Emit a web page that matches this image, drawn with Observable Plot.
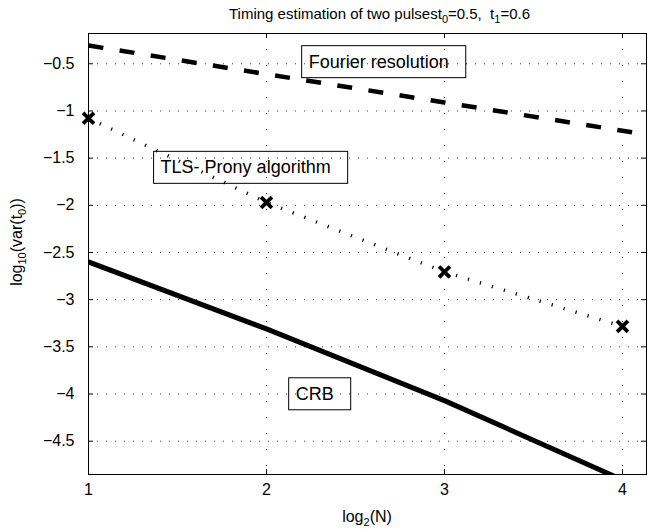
<!DOCTYPE html>
<html>
<head>
<meta charset="utf-8">
<script src="https://cdn.jsdelivr.net/npm/d3@7"></script>
<script src="https://cdn.jsdelivr.net/npm/@observablehq/plot@0.6"></script>
<style>
  html, body { margin: 0; padding: 0; background: #fff; }
  svg { font-family: "Liberation Sans", Arial, sans-serif; }
</style>
</head>
<body>
<div id="chart"></div>
<script>
// ---- data ----
const xTicks = [1, 2, 3, 4];
const yTicks = [-0.5, -1, -1.5, -2, -2.5, -3, -3.5, -4, -4.5];

const fourierLog2N = [1, 2, 3, 4, 5];
const fourierVar   = [-0.306, -0.61, -0.91, -1.21, -1.51];

const tlsLog2N = [1, 2, 3, 4];
const tlsVar   = [-1.077, -1.97, -2.706, -3.283];

const crbLog2N = [1, 2, 3, 4];
const crbVar   = [-2.6, -3.31, -4.07, -4.91];

const labelText = ["Fourier resolution", "TLS- Prony algorithm", "CRB"];
const labelX    = [2.237, 1.405, 2.164];
const labelY    = [-0.48, -1.6, -4.0];

// ---- tables ----
const fourier = fourierLog2N.map((x, i) => ({x, y: fourierVar[i]}));
const tls = tlsLog2N.map((x, i) => ({x, y: tlsVar[i]}));
const crb = crbLog2N.map((x, i) => ({x, y: crbVar[i]}));
const labels = labelText.map((t, i) => ({t, x: labelX[i], y: labelY[i]}));

const W = 649, H = 529, mL = 88, mR = 3, mT = 33, mB = 55;
const pw = W - mL - mR, ph = H - mT - mB;
const tick = 5;
const fmt = d => String(d).replace("-", "\u2212");

const chart = Plot.plot({
  width: W, height: H,
  marginLeft: mL, marginRight: mR, marginTop: mT, marginBottom: mB,
  style: {fontFamily: '"Liberation Sans", Arial, sans-serif', fontSize: "16px", color: "black", background: "white"},
  x: {domain: [1, 4.135]},
  y: {domain: [-4.853, -0.179]},
  marks: [
    Plot.gridY(yTicks, {stroke: "black", strokeOpacity: 0.8, strokeDasharray: "1,8"}),
    Plot.gridX(xTicks, {stroke: "black", strokeOpacity: 0.8, strokeDasharray: "1,15"}),
    Plot.tickY(yTicks, {y: d => d, insetRight: pw - tick, stroke: "black"}),
    Plot.tickY(yTicks, {y: d => d, insetLeft: pw - tick, stroke: "black"}),
    Plot.tickX(xTicks, {x: d => d, insetTop: ph - tick, stroke: "black"}),
    Plot.tickX(xTicks, {x: d => d, insetBottom: ph - tick, stroke: "black"}),
    Plot.axisX(xTicks, {tickSize: 0, tickPadding: 9, tickFormat: fmt, label: null, fontSize: 16}),
    Plot.axisY(yTicks, {tickSize: 0, tickPadding: 14, tickFormat: fmt, label: null, fontSize: 16}),
    Plot.line(fourier, {x: "x", y: "y", stroke: "black", strokeWidth: 4.5, strokeDasharray: "15,16.5", strokeLinecap: "butt", clip: true}),
    Plot.line(tls, {x: "x", y: "y", stroke: "black", strokeWidth: 3.5, strokeDasharray: "1.2,11.3", strokeLinecap: "butt"}),
    Plot.dot(tls, {x: "x", y: "y", symbol: "times", r: 5, stroke: "black", strokeWidth: 3.8}),
    Plot.line(crb, {x: "x", y: "y", stroke: "black", strokeWidth: 5, clip: true}),
    Plot.text(labels, {x: "x", y: "y", text: "t", textAnchor: "start", lineAnchor: "middle", fontSize: 18, fill: "black"}),
    Plot.frame({stroke: "black"})
  ]
});

document.getElementById("chart").appendChild(chart);

const svg = d3.select(chart);
svg.selectAll('g[aria-label$="tick label"]').style("font-size", "16px");

// boxes around the annotations
svg.selectAll('g[aria-label="text"] text').each(function() {
  const b = this.getBBox();
  const r = d3.select(this.parentNode).insert("rect", () => this)
    .attr("x", b.x - 7).attr("y", b.y - 6)
    .attr("width", b.width + 24).attr("height", b.height + 12)
    .attr("fill", "none").attr("stroke", "black").attr("stroke-width", 1);
  const tr = this.getAttribute("transform");
  if (tr) r.attr("transform", tr);
});

function richText(parent, parts, size, subSize) {
  parts.forEach(p => {
    const ts = parent.append("tspan").text(p.s);
    if (p.sub) ts.style("font-size", subSize + "px").attr("dy", size * 0.25);
    else if (p.after) ts.attr("dy", -size * 0.25);
  });
}

// title
const title = svg.append("text").attr("x", 229).attr("y", 19)
  .attr("text-anchor", "start")
  .style("font-size", "15px").attr("fill", "black").style("white-space", "pre");
richText(title, [
  {s: "Timing estimation of two pulses"}, {s: "t"}, {s: "0", sub: true},
  {s: "=0.5,  t", after: true}, {s: "1", sub: true}, {s: "=0.6", after: true}
], 15, 11);

// x label
const xl = svg.append("text").attr("x", mL + pw / 2).attr("y", 522)
  .attr("text-anchor", "middle").style("font-size", "16px").attr("fill", "black");
richText(xl, [{s: "log"}, {s: "2", sub: true}, {s: "(N)", after: true}], 16, 11);

// y label
const yl = svg.append("text").attr("transform", "translate(22,242) rotate(-90)")
  .attr("text-anchor", "middle").style("font-size", "16px").attr("fill", "black");
richText(yl, [{s: "log"}, {s: "10", sub: true}, {s: "(var(t", after: true}, {s: "0", sub: true}, {s: "))", after: true}], 16, 11);
</script>
</body>
</html>
